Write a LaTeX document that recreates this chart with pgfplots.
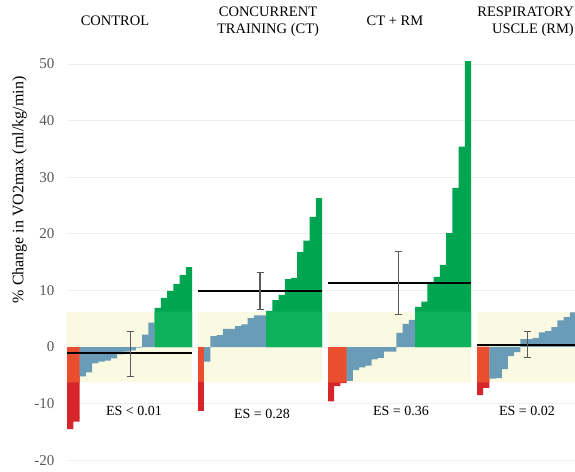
\documentclass[border=0pt]{standalone}
\usepackage{pgfplots}
\pgfplotsset{compat=1.18}
\usepackage{fontspec}
\setmainfont{Liberation Serif}
\definecolor{cred}{HTML}{D7262B}
\definecolor{corange}{HTML}{E94E2E}
\definecolor{cblue}{HTML}{6A9BB7}
\definecolor{cgreen}{HTML}{00A551}
\definecolor{clgreen}{HTML}{10B15D}
\definecolor{cband}{HTML}{FAF9E1}
\definecolor{cgrid}{HTML}{EEEEEE}
\definecolor{cerr}{HTML}{5A5A5A}
\pgfplotsset{
  panel/.style={scale only axis, height=418.84pt, ymin=-21, ymax=53, hide axis, clip=false},
  bars/.style={ybar, bar width=1, bar shift=0pt, draw=none, fill=#1, forget plot},
  band/.style={fill=cband, draw=none, forget plot},
  meanline/.style={black, line width=2pt, forget plot},
  eb/.style={draw=none, mark=none, forget plot,
    error bars/.cd, y dir=both, y explicit,
    error bar style={color=cerr, line width=1.1pt},
    error mark options={rotate=90, mark size=3.5pt, line width=1.1pt, color=cerr}},
}
\begin{document}
\begin{tikzpicture}
\useasboundingbox (0,0) rectangle (575pt,471pt);
% background grid axis
\begin{axis}[at={(67pt,5.14pt)}, anchor=south west, scale only axis,
  width=508pt, height=418.84pt, xmin=0, xmax=1, ymin=-21, ymax=53,
  ytick={-20,-10,0,10,20,30,40,50},
  yticklabels={-20,-10,0,10,20,30,40,50},
  xtick=\empty, ymajorgrids, grid style={color=cgrid, line width=0.8pt},
  axis line style={draw=none}, major tick length=0pt,
  yticklabel style={font=\fontsize{15}{17}\selectfont, text=black!65, xshift=-9pt}]
\end{axis}
% CONTROL
\begin{axis}[panel, at={(67pt,5.14pt)}, anchor=south west, width=125pt, xmin=-0.5, xmax=19.5]
\addplot[band] coordinates {(-0.5,-6.25) (19.5,-6.25) (19.5,6.25) (-0.5,6.25)} -- cycle;
\addplot[bars=cred] coordinates {(0,-14.5) (1,-13.2)};
\addplot[bars=corange] coordinates {(0,-6.25) (1,-6.25)};
\addplot[bars=cblue] coordinates {(2,-5.2) (3,-4.5) (4,-2.9) (5,-2.6) (6,-2.4) (7,-2.0) (8,-1.3) (9,-0.8) (10,-0.6) (11,-0.1) (12,2.2) (13,4.3)};
\addplot[bars=cgreen] coordinates {(14,6.9) (15,8.7) (16,9.9) (17,11.1) (18,12.7) (19,14.1)};
\addplot[bars=clgreen] coordinates {(14,6.25) (15,6.25) (16,6.25) (17,6.25) (18,6.25) (19,6.25)};
\addplot[meanline] coordinates {(-0.5,-1.0) (19.5,-1.0)};
\addplot[eb] coordinates {(9.6,-1.0) += (0,3.77) -= (0,4.18)};
\end{axis}
% CT
\begin{axis}[panel, at={(198pt,5.14pt)}, anchor=south west, width=124pt, xmin=-0.5, xmax=19.5]
\addplot[band] coordinates {(-0.5,-6.25) (19.5,-6.25) (19.5,6.25) (-0.5,6.25)} -- cycle;
\addplot[bars=cred] coordinates {(0,-11.3)};
\addplot[bars=corange] coordinates {(0,-6.25)};
\addplot[bars=cblue] coordinates {(1,-2.6) (2,1.9) (3,2.1) (4,3.2) (5,3.2) (6,3.7) (7,4.0) (8,5.1) (9,5.6) (10,5.6)};
\addplot[bars=cgreen] coordinates {(11,6.4) (12,8.3) (13,9.2) (14,12.0) (15,12.2) (16,16.8) (17,18.8) (18,23.0) (19,26.3)};
\addplot[bars=clgreen] coordinates {(11,6.25) (12,6.25) (13,6.25) (14,6.25) (15,6.25) (16,6.25) (17,6.25) (18,6.25) (19,6.25)};
\addplot[meanline] coordinates {(-0.5,9.9) (19.5,9.9)};
\addplot[eb] coordinates {(9.5,9.9) += (0,3.3) -= (0,3.3)};
\end{axis}
% CT + RM
\begin{axis}[panel, at={(328pt,5.14pt)}, anchor=south west, width=143pt, xmin=-0.5, xmax=22.5]
\addplot[band] coordinates {(-0.5,-6.25) (22.5,-6.25) (22.5,6.25) (-0.5,6.25)} -- cycle;
\addplot[bars=cred] coordinates {(0,-9.6) (1,-6.9) (2,-6.4)};
\addplot[bars=corange] coordinates {(0,-6.25) (1,-6.25) (2,-6.25)};
\addplot[bars=cblue] coordinates {(3,-6.0) (4,-4.1) (5,-3.6) (6,-3.3) (7,-2.2) (8,-1.9) (9,-0.8) (10,-0.8) (11,2.5) (12,4.1) (13,4.8)};
\addplot[bars=cgreen] coordinates {(14,7.1) (15,8.0) (16,11.1) (17,12.4) (18,14.5) (19,20.1) (20,28.1) (21,35.4) (22,50.5)};
\addplot[bars=clgreen] coordinates {(14,6.25) (15,6.25) (16,6.25) (17,6.25) (18,6.25) (19,6.25) (20,6.25) (21,6.25) (22,6.25)};
\addplot[meanline] coordinates {(-0.5,11.35) (22.5,11.35)};
\addplot[eb] coordinates {(10.9,11.3) += (0,5.5) -= (0,5.5)};
\end{axis}
% RM
\begin{axis}[panel, at={(477pt,5.14pt)}, anchor=south west, width=99pt, xmin=-0.5, xmax=15.5]
\addplot[band] coordinates {(-0.5,-6.25) (15.5,-6.25) (15.5,6.25) (-0.5,6.25)} -- cycle;
\addplot[bars=cred] coordinates {(0,-8.5) (1,-7.2)};
\addplot[bars=corange] coordinates {(0,-6.25) (1,-6.25)};
\addplot[bars=cblue] coordinates {(2,-5.6) (3,-5.5) (4,-3.9) (5,-1.6) (6,-0.9) (7,1.4) (8,1.4) (9,1.6) (10,2.6) (11,2.8) (12,3.5) (13,4.7) (14,5.3) (15,6.1)};
\addplot[meanline] coordinates {(-0.5,0.4) (15.5,0.4)};
\addplot[eb] coordinates {(7.6,0.4) += (0,2.3) -= (0,2.3)};
\end{axis}
% titles
\begin{scope}[every node/.style={font=\fontsize{14.5}{17}\selectfont, inner sep=0pt}]
\node at (115pt,450pt) {CONTROL};
\node[align=center] at (268pt,449pt) {CONCURRENT\\TRAINING (CT)};
\node at (395pt,450pt) {CT + RM};
\node[anchor=east, align=right] at (574pt,449pt) {RESPIRATORY\\USCLE (RM)};
\end{scope}
\begin{scope}[every node/.style={font=\fontsize{14}{16}\selectfont, inner sep=0pt}]
\node at (134pt,60pt) {ES < 0.01};
\node at (262pt,57pt) {ES = 0.28};
\node at (401pt,60pt) {ES = 0.36};
\node at (527pt,60pt) {ES = 0.02};
\end{scope}
\node[rotate=90, font=\fontsize{16}{18}\selectfont, inner sep=0pt] at (19.5pt,281pt) {\% Change in VO2max (ml/kg/min)};
\end{tikzpicture}
\end{document}
